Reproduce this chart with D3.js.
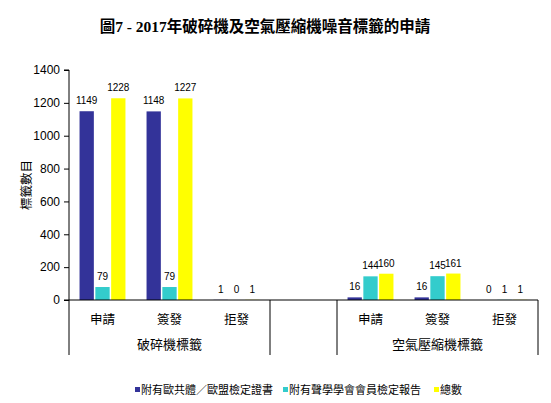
<!DOCTYPE html>
<html>
<head>
<meta charset="utf-8">
<script src="https://cdn.jsdelivr.net/npm/d3@7"></script>
<style>
  body { margin: 0; background: #fff; }
  text { font-family: "Liberation Sans", Arial, "Noto Sans CJK TC", sans-serif; fill: #000; }
  .cjk { font-family: "Liberation Sans", "Noto Sans CJK TC", sans-serif; }
</style>
</head>
<body>
<svg id="chart" width="551" height="403"></svg>
<script>
// 資料
const groups = ["破碎機標籤", "", "空氣壓縮機標籤"];
const categories = ["申請", "簽發", "拒發", "", "申請", "簽發", "拒發"];
const categoryGroup = [0, 0, 0, 1, 2, 2, 2];
const seriesNames = ["附有歐共體／歐盟檢定證書", "附有聲學學會會員檢定報告", "總數"];
const euCert = [1149, 1148, 1, null, 16, 16, 0];
const acousticReport = [79, 79, 0, null, 144, 145, 1];
const total = [1228, 1227, 1, null, 160, 161, 1];
const yTicks = [0, 200, 400, 600, 800, 1000, 1200, 1400];
const colors = ["#333399", "#33CCCC", "#FFFF00"];

const seriesValues = [euCert, acousticReport, total];

const svg = d3.select("#chart");
const plotLeft = 69, plotRight = 538, plotTop = 70, plotBottom = 300;

const keys = categories.map((c, i) => i);
const x = d3.scaleBand().domain(keys).range([plotLeft, plotRight]).padding(0);
const xs = d3.scaleBand().domain(d3.range(seriesNames.length))
  .range([0, x.bandwidth()]).paddingInner(0.095).paddingOuter(0.667);
const y = d3.scaleLinear().domain([0, 1400]).range([plotBottom, plotTop]);

// 標題
svg.append("text")
  .attr("x", 265).attr("y", 32)
  .attr("text-anchor", "middle")
  .style("font-family", "'Liberation Serif', 'Noto Sans CJK TC', serif")
  .style("font-size", "15.5px").style("font-weight", "bold")
  .text("圖7 - 2017年破碎機及空氣壓縮機噪音標籤的申請");

// y軸
const yAxis = svg.append("g")
  .attr("transform", `translate(${plotLeft},0)`)
  .call(d3.axisLeft(y).tickValues(yTicks).tickSize(5).tickPadding(4).tickFormat(d3.format("d")));
yAxis.select(".domain").attr("stroke", "#000").attr("d", `M-5,${plotBottom}H0V${plotTop}H-5`);
yAxis.selectAll(".tick line").attr("stroke", "#000");
yAxis.selectAll("text").style("font-size", "12px").style("font-family", "'Liberation Sans', Arial, sans-serif");

svg.append("text")
  .attr("class", "cjk")
  .attr("transform", `translate(31,${(plotTop + plotBottom) / 2}) rotate(-90)`)
  .attr("text-anchor", "middle")
  .style("font-size", "12.5px")
  .text("標籤數目");

// 長條
seriesValues.forEach((vals, s) => {
  const pts = vals.map((v, i) => ({ v, i })).filter(d => d.v !== null);
  svg.append("g").selectAll("rect")
    .data(pts)
    .join("rect")
    .attr("x", d => x(d.i) + xs(s))
    .attr("width", xs.bandwidth())
    .attr("y", d => y(d.v))
    .attr("height", d => plotBottom - y(d.v))
    .attr("fill", colors[s]);

  svg.append("g").selectAll("text")
    .data(pts)
    .join("text")
    .attr("x", d => x(d.i) + xs(s) + xs.bandwidth() / 2)
    .attr("y", d => y(d.v) - 7)
    .attr("text-anchor", "middle")
    .style("font-size", "10px")
    .text(d => d.v);
});

// x軸
svg.append("line").attr("x1", plotLeft).attr("x2", plotRight)
  .attr("y1", plotBottom).attr("y2", plotBottom).attr("stroke", "#000");

svg.append("g").selectAll("text")
  .data(categories.map((c, i) => ({ c, i })))
  .join("text")
  .attr("class", "cjk")
  .attr("x", d => x(d.i) + x.bandwidth() / 2)
  .attr("y", 324)
  .attr("text-anchor", "middle")
  .style("font-size", "12.5px")
  .text(d => d.c);

// 分組
const groupExtent = groups.map((g, gi) => {
  const idx = keys.filter(i => categoryGroup[i] === gi);
  return { g, x0: x(idx[0]), x1: x(idx[idx.length - 1]) + x.bandwidth() };
});
const bounds = Array.from(new Set(groupExtent.flatMap(d => [d.x0, d.x1])));
svg.append("g").selectAll("line")
  .data(bounds)
  .join("line")
  .attr("x1", d => d).attr("x2", d => d)
  .attr("y1", plotBottom).attr("y2", 355)
  .attr("stroke", "#000");
svg.append("g").selectAll("text")
  .data(groupExtent)
  .join("text")
  .attr("class", "cjk")
  .attr("x", d => (d.x0 + d.x1) / 2)
  .attr("y", 349)
  .attr("text-anchor", "middle")
  .style("font-size", "13px")
  .text(d => d.g);

// 圖例
const legendX = [135, 283, 434];
const legend = svg.append("g").selectAll("g")
  .data(seriesNames)
  .join("g")
  .attr("transform", (d, i) => `translate(${legendX[i]},390)`);
legend.append("rect").attr("x", 0).attr("y", -3).attr("width", 5).attr("height", 5)
  .attr("fill", (d, i) => colors[i]);
legend.append("text")
  .attr("class", "cjk")
  .attr("x", 6).attr("y", 4)
  .style("font-size", "11px")
  .text(d => d);
</script>
</body>
</html>
